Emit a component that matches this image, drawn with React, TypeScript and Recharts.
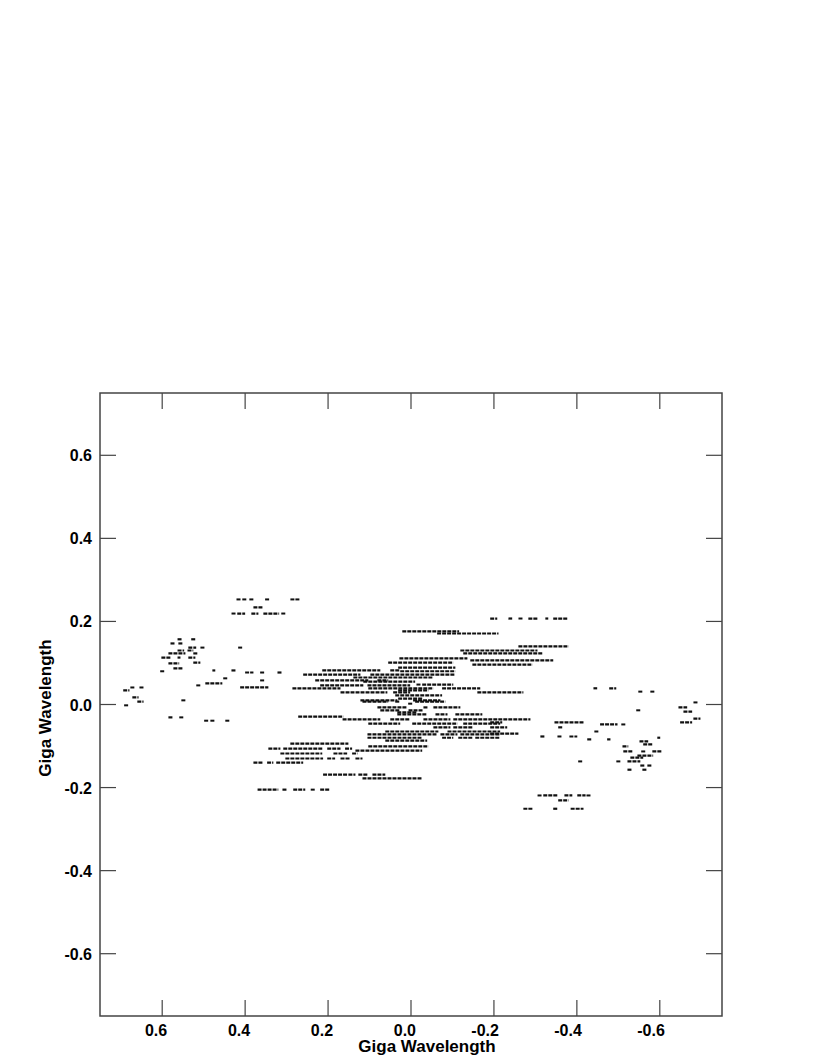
import React from 'react';
import { ScatterChart, Scatter, XAxis, YAxis, ReferenceLine, ReferenceArea } from 'recharts';

// tracks are [u start, u end, v] in giga-wavelengths, points are [u, v]
const upperLeftTracks: [number, number, number][] = [
  [0.380, 0.356, 0.234],
  [0.419, 0.400, 0.219], [0.385, 0.368, 0.219], [0.356, 0.318, 0.219],
];
const upperLeftPoints: [number, number][] = [
  [0.416, 0.253], [0.402, 0.253], [0.385, 0.253], [0.347, 0.253], [0.286, 0.253], [0.274, 0.253],
  [0.428, 0.219], [0.308, 0.219],
];

const leftTracks: [number, number, number][] = [
  [0.563, 0.551, 0.157], [0.530, 0.520, 0.157],
  [0.580, 0.568, 0.147], [0.561, 0.551, 0.147],
  [0.537, 0.518, 0.137],
  [0.563, 0.547, 0.130], [0.539, 0.525, 0.130],
  [0.585, 0.544, 0.123], [0.525, 0.515, 0.123],
  [0.602, 0.580, 0.113], [0.563, 0.556, 0.113], [0.537, 0.520, 0.113],
  [0.525, 0.508, 0.101],
  [0.585, 0.559, 0.099],
  [0.573, 0.549, 0.087],
  [0.479, 0.472, 0.082], [0.433, 0.421, 0.082],
  [0.400, 0.380, 0.077], [0.322, 0.310, 0.077],
  [0.496, 0.455, 0.051],
  [0.412, 0.344, 0.041],
  [0.694, 0.679, 0.034],
  [0.672, 0.657, 0.017],
  [0.660, 0.645, 0.007],
  [0.585, 0.575, -0.031],
];
const leftPoints: [number, number][] = [
  [0.503, 0.137], [0.412, 0.137], [0.600, 0.080], [0.359, 0.077], [0.448, 0.063], [0.359, 0.058],
  [0.513, 0.046], [0.672, 0.041], [0.650, 0.041], [0.549, 0.010], [0.687, -0.002], [0.554, -0.031],
  [0.494, -0.039], [0.479, -0.039], [0.443, -0.039],
];

const lowerLeftTracks: [number, number, number][] = [
  [0.272, 0.163, -0.029],
  [0.291, 0.151, -0.094],
  [0.344, 0.315, -0.106], [0.308, 0.214, -0.106], [0.202, 0.170, -0.106], [0.159, 0.142, -0.106],
  [0.315, 0.214, -0.118], [0.187, 0.154, -0.118], [0.142, 0.129, -0.118],
  [0.303, 0.212, -0.130], [0.202, 0.183, -0.130], [0.170, 0.146, -0.130], [0.134, 0.117, -0.130],
  [0.380, 0.356, -0.140], [0.347, 0.332, -0.140], [0.325, 0.260, -0.140],
  [0.212, 0.154, -0.169], [0.151, 0.134, -0.169], [0.127, 0.103, -0.169], [0.093, 0.062, -0.169],
  [0.117, -0.027, -0.178],
  [0.370, 0.320, -0.205], [0.310, 0.298, -0.205], [0.284, 0.255, -0.205], [0.219, 0.195, -0.205],
];
const lowerLeftPoints: [number, number][] = [[0.237, -0.205]];

const centreUpperTracks: [number, number, number][] = [
  [-0.191, -0.208, 0.207], [-0.235, -0.244, 0.207], [-0.283, -0.307, 0.207], [-0.324, -0.331, 0.207], [-0.343, -0.377, 0.207],
  [0.021, -0.116, 0.176],
  [-0.063, -0.211, 0.171],
  [-0.259, -0.380, 0.140],
  [-0.119, -0.305, 0.130],
  [-0.126, -0.317, 0.123],
  [0.028, -0.136, 0.111],
  [-0.143, -0.343, 0.106],
  [0.055, -0.102, 0.101],
  [-0.148, -0.293, 0.096],
  [0.031, -0.107, 0.089],
  [0.214, 0.074, 0.082], [0.050, 0.026, 0.082],
  [0.026, -0.107, 0.080],
  [0.260, 0.122, 0.072], [0.098, -0.107, 0.072],
  [0.139, -0.054, 0.065],
  [0.231, 0.103, 0.058], [0.081, 0.055, 0.058],
  [0.115, -0.010, 0.055],
  [-0.027, -0.102, 0.048],
  [0.219, 0.115, 0.046], [0.105, 0.002, 0.046],
  [0.286, 0.170, 0.039], [0.103, -0.054, 0.039], [-0.075, -0.167, 0.039],
  [0.031, -0.042, 0.034],
  [0.170, 0.057, 0.029], [0.043, 0.002, 0.029], [-0.160, -0.271, 0.029],
  [0.038, -0.075, 0.022],
  [0.031, -0.027, 0.014],
  [0.122, 0.033, 0.010], [-0.005, -0.071, 0.010],
  [0.117, 0.055, 0.007], [0.038, 0.026, 0.007], [-0.010, -0.083, 0.007],
];
const centreLowerTracks: [number, number, number][] = [
  [0.081, 0.009, -0.007], [-0.030, -0.042, -0.007], [-0.054, -0.119, -0.007],
  [0.074, 0.026, -0.014], [0.006, -0.030, -0.014],
  [0.033, -0.015, -0.019],
  [0.033, -0.039, -0.024], [-0.059, -0.088, -0.024], [-0.107, -0.172, -0.024],
  [0.165, 0.074, -0.036], [0.050, 0.002, -0.036], [-0.030, -0.095, -0.036], [-0.102, -0.288, -0.036],
  [-0.191, -0.220, -0.043],
  [0.103, 0.026, -0.046], [-0.003, -0.112, -0.046], [-0.126, -0.215, -0.046],
  [-0.054, -0.095, -0.055], [-0.102, -0.150, -0.055], [-0.191, -0.232, -0.055],
  [0.062, -0.066, -0.065], [-0.088, -0.215, -0.065],
  [-0.191, -0.259, -0.070],
  [0.105, -0.063, -0.072], [-0.071, -0.112, -0.072], [-0.119, -0.215, -0.072],
  [0.105, -0.027, -0.080], [-0.075, -0.102, -0.080], [-0.114, -0.148, -0.080], [-0.155, -0.215, -0.080],
  [0.062, -0.039, -0.087],
  [0.103, -0.042, -0.101],
  [0.134, -0.027, -0.111],
];
const centrePoints: [number, number][] = [[0.002, 0.002], [-0.018, 0.048], [-0.264, 0.207]];

const rightTracks: [number, number, number][] = [
  [-0.440, -0.449, 0.039], [-0.478, -0.495, 0.039],
  [-0.645, -0.666, -0.007],
  [-0.657, -0.678, -0.017],
  [-0.681, -0.698, -0.034],
  [-0.649, -0.678, -0.043], [-0.346, -0.416, -0.043],
  [-0.456, -0.498, -0.048],
  [-0.355, -0.365, -0.055],
  [-0.312, -0.324, -0.077], [-0.382, -0.401, -0.077],
  [-0.594, -0.601, -0.080],
  [-0.425, -0.437, -0.084], [-0.473, -0.481, -0.084],
  [-0.551, -0.572, -0.089],
  [-0.560, -0.584, -0.096],
  [-0.510, -0.524, -0.101],
  [-0.512, -0.534, -0.113], [-0.582, -0.606, -0.113],
  [-0.546, -0.584, -0.123],
  [-0.529, -0.560, -0.128],
  [-0.522, -0.553, -0.137],
  [-0.553, -0.565, -0.147], [-0.570, -0.582, -0.147],
  [-0.522, -0.534, -0.157], [-0.558, -0.570, -0.157],
  [-0.319, -0.355, -0.219], [-0.370, -0.389, -0.219], [-0.401, -0.421, -0.219],
  [-0.355, -0.380, -0.231],
  [-0.271, -0.293, -0.251], [-0.343, -0.353, -0.251], [-0.385, -0.416, -0.251],
];
const rightPoints: [number, number][] = [
  [-0.553, 0.031], [-0.582, 0.031], [-0.686, 0.005], [-0.548, -0.014], [-0.512, -0.048], [-0.447, -0.065],
  [-0.358, -0.077], [-0.560, -0.113], [-0.408, -0.137], [-0.500, -0.137], [-0.310, -0.219], [-0.428, -0.219],
];

const axisTicks = [0.6, 0.4, 0.2, 0, -0.2, -0.4, -0.6];
const axisTitle = 'Giga Wavelength';

const LIM = 0.75;
const TICK_LEN = 0.0386; // ~16px inward
const FONT = '"Liberation Sans", Arial, Helvetica, sans-serif';

const allTracks = [...upperLeftTracks, ...leftTracks, ...lowerLeftTracks, ...centreUpperTracks, ...centreLowerTracks, ...rightTracks];
const allPoints = [...upperLeftPoints, ...leftPoints, ...lowerLeftPoints, ...centrePoints, ...rightPoints].map(([u, v]) => ({ u, v }));

const fmt = (t: number) => t.toFixed(1);

const XTick = (props: any) => {
  const { x, y, payload } = props;
  return (
    <text x={x + 5} y={y + 20} textAnchor="end" fontFamily={FONT} fontWeight="bold" fontSize={16} fill="#000">
      {fmt(payload.value)}
    </text>
  );
};

const YTick = (props: any) => {
  const { x, y, payload } = props;
  return (
    <text x={x - 8} y={y + 6} textAnchor="end" fontFamily={FONT} fontWeight="bold" fontSize={16} fill="#000">
      {fmt(payload.value)}
    </text>
  );
};

const Dot = (props: any) => <rect x={props.cx - 2} y={props.cy - 1} width={4} height={2} fill="#111" />;

export default function App() {
  return (
    <div style={{ position: 'relative', width: 809, height: 1050 }}>
      <ScatterChart width={809} height={1050} margin={{ top: 385, right: 95, bottom: 0, left: 0 }}>
        <XAxis
          type="number"
          dataKey="u"
          domain={[-LIM, LIM]}
          reversed
          ticks={axisTicks}
          tick={<XTick />}
          tickSize={0}
          tickMargin={0}
          tickLine={false}
          axisLine={false}
          height={42}
          allowDataOverflow
        />
        <YAxis
          type="number"
          dataKey="v"
          domain={[-LIM, LIM]}
          ticks={axisTicks}
          tick={<YTick />}
          tickSize={0}
          tickMargin={0}
          tickLine={false}
          axisLine={false}
          width={92}
          allowDataOverflow
        />
        <ReferenceArea x1={LIM} x2={-LIM} y1={-LIM} y2={LIM} fill="none" stroke="#444" strokeWidth={1.5} ifOverflow="visible" />
        {axisTicks.map((t) => (
          <ReferenceLine key={`b${t}`} segment={[{ x: t, y: -LIM }, { x: t, y: -LIM + TICK_LEN }]} stroke="#444" strokeWidth={1.2} />
        ))}
        {axisTicks.map((t) => (
          <ReferenceLine key={`t${t}`} segment={[{ x: t, y: LIM }, { x: t, y: LIM - TICK_LEN }]} stroke="#444" strokeWidth={1.2} />
        ))}
        {axisTicks.map((t) => (
          <ReferenceLine key={`l${t}`} segment={[{ x: LIM, y: t }, { x: LIM - TICK_LEN, y: t }]} stroke="#444" strokeWidth={1.2} />
        ))}
        {axisTicks.map((t) => (
          <ReferenceLine key={`r${t}`} segment={[{ x: -LIM, y: t }, { x: -LIM + TICK_LEN, y: t }]} stroke="#444" strokeWidth={1.2} />
        ))}
        {allTracks.map(([u1, u2, v], i) => (
          <ReferenceLine
            key={`s${i}`}
            segment={[{ x: u1, y: v }, { x: u2, y: v }]}
            stroke="#111"
            strokeWidth={2.2}
            strokeDasharray="4 1"
          />
        ))}
        <Scatter data={allPoints} shape={<Dot />} isAnimationActive={false} />
      </ScatterChart>
      <div
        style={{
          position: 'absolute', left: 419, top: 1032, transform: 'translateX(-50%)',
          fontFamily: FONT, fontWeight: 'bold', fontSize: 17, lineHeight: '13px', whiteSpace: 'nowrap',
        }}
      >
        {axisTitle}
      </div>
      <div
        style={{
          position: 'absolute', left: 37, top: 700, transform: 'translate(-50%, -50%) rotate(-90deg)',
          fontFamily: FONT, fontWeight: 'bold', fontSize: 17, lineHeight: '13px', whiteSpace: 'nowrap',
        }}
      >
        {axisTitle}
      </div>
    </div>
  );
}
